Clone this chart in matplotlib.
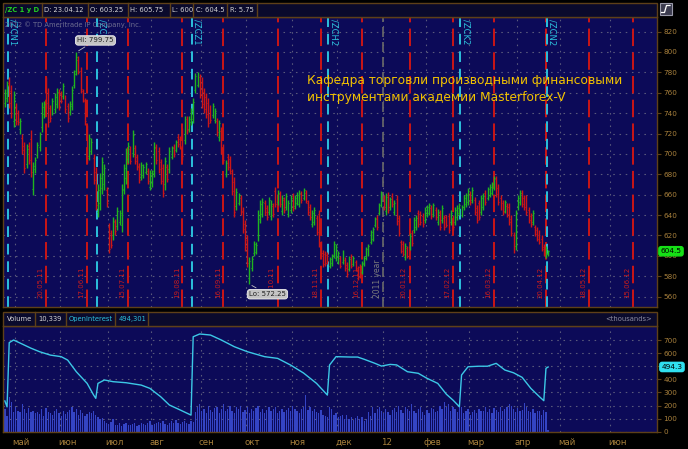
import numpy as np
import matplotlib
matplotlib.use('Agg')
import matplotlib.pyplot as plt
from matplotlib.patches import Rectangle
import matplotlib.transforms as mtrans
from matplotlib import font_manager

# ---------------- data ----------------
symbol = '/ZC 1 y D'
hdr_fields = ['D: 23.04.12', 'O: 603.25', 'H: 605.75', 'L: 600', 'C: 604.5', 'R: 5.75']
watermark = '2012 \u00a9 TD Ameritrade IP Company, Inc.'
title_lines = ['Кафедра торговли производными финансовыми',
               'инструментами академии Masterforex-V']
first_date = '2011-04-25'
holidays = ['2011-05-30', '2011-07-04', '2011-09-05', '2011-11-24', '2011-12-26',
            '2012-01-02', '2012-01-16', '2012-02-20', '2012-04-06']

highs = [764,772,775,768,762,750,743,735,720,712,
         710,712,723,692,697,712,721,751,752,775,
         765,748,755,760,765,764,762,770,758,750,
         752,767,782,799.75,796,785,764,755,728,720,
         716,700,687,670,681,697,690,668,632,625,
         638,636,648,645,670,690,706,712,708,723,
         709,700,691,692,690,692,686,684,684,712,
         710,707,695,690,697,690,707,708,710,714,
         720,718,725,737,737,737,745,755,779,780,
         778,775,765,760,755,748,750,745,735,733,
         726,710,694,700,698,685,677,667,662,660,
         648,635,620,599,600,615,614,645,655,657,
         655,650,658,655,652,668,665,664,660,658,
         662,655,660,662,660,663,665,664,667,665,
         655,651,645,648,640,645,615,606,605,604,
         599,602,615,612,605,600,606,599,594,600,
         602,600,596,590,592,595,600,609,612,625,
         628,638,640,652,664,660,662,663,658,662,
         655,660,640,616,615,613,610,622,625,638,
         640,645,644,642,648,650,652,650,652,648,
         646,645,650,640,640,642,645,640,648,650,
         652,650,660,662,667,664,668,658,650,655,
         660,662,665,668,670,672,678,678,670,660,
         655,655,652,652,640,623,645,660,665,665,
         660,660,648,642,645,630,628,625,620,612,
         610,605.75]
lows = [746,751,745,735,726,728,728,720,700,681,
        686,690,677,660,681,696,703,721,735,745,
        726,731,738,740,745,743,750,754,740,731,
        738,743,765,777,778,760,751,728,691,694,
        700,670,645,638,645,661,665,648,603,608,
        616,620,625,630,623,661,670,691,690,697,
        690,684,671,674,676,680,670,665,668,677,
        690,681,670,658,665,672,681,695,697,702,
        707,705,694,710,720,721,728,730,760,766,
        755,745,740,735,726,730,735,730,718,713,
        700,691,677,684,680,660,638,645,650,640,
        622,605,589,572.25,585,600,602,615,632,638,
        640,635,640,635,638,648,650,648,640,642,
        645,638,642,644,646,650,648,652,655,652,
        640,635,628,630,620,609,600,589,590,592,
        588,590,598,595,592,588,592,585,579,585,
        588,590,585,576,578,582,590,596,600,612,
        615,628,625,640,648,645,640,642,645,648,
        640,630,619,603,600,596,598,606,610,622,
        625,628,630,628,632,638,640,636,638,635,
        630,625,632,625,628,622,630,625,630,635,
        640,638,645,648,650,650,652,640,632,635,
        640,645,650,655,658,660,665,658,650,645,
        640,642,638,630,619,603,606,645,650,648,
        645,640,632,628,630,619,615,612,605,600,
        598,600]
opens = [750,755,770,762,732,745,740,724,716,708,
         690,708,715,666,685,699,707,726,739,768,
         760,745,741,744,749,760,759,757,755,747,
         741,747,768,781,792,781,762,752,724,698,
         703,696,682,643,652,667,670,665,628,622,
         620,633,629,633,630,666,676,695,705,701,
         706,697,688,677,679,682,683,668,671,683,
         706,703,692,686,670,687,685,697,707,704,
         717,715,721,714,734,724,731,734,763,768,
         775,771,761,756,750,745,738,733,732,717,
         722,707,680,697,695,681,672,649,652,657,
         644,631,616,578,588,603,604,620,636,641,
         652,647,643,639,649,664,653,661,644,655,
         648,641,645,659,649,652,651,661,657,662,
         652,648,631,633,637,641,612,603,602,601,
         590,593,601,598,594,598,594,596,591,587,
         599,592,594,588,589,584,592,598,603,614,
         617,630,637,642,651,657,644,660,648,659,
         643,656,637,614,612,599,608,609,622,625,
         628,642,641,639,635,640,642,647,641,645,
         633,642,635,637,638,639,633,637,633,638,
         642,640,648,651,653,661,655,655,647,652,
         643,648,662,657,660,662,667,675,667,657,
         652,644,649,648,636,620,610,648,653,662,
         657,656,645,639,633,628,625,622,617,609,
         600,603.25]
closes = [760,768,750,740,755,732,731,732,704,686,
          705,694,682,688,694,709,718,746,749,750,
          731,735,752,756,761,747,752,767,744,735,
          749,763,778,795,781,764,753,732,696,716,
          712,674,650,665,676,692,686,652,607,611,
          634,624,644,642,665,686,701,708,693,719,
          693,687,674,689,687,690,673,681,681,707,
          694,685,673,662,693,675,703,706,700,712,
          710,708,698,733,723,734,742,751,776,778,
          758,749,744,739,730,733,747,742,721,730,
          704,694,691,687,683,664,643,663,660,643,
          626,609,593,595,597,612,611,640,651,653,
          643,638,655,651,641,651,662,651,657,645,
          659,652,657,647,657,660,662,655,665,654,
          643,638,642,645,623,613,603,592,593,595,
          597,600,612,609,603,590,604,588,582,597,
          590,598,587,579,581,593,598,607,610,623,
          626,636,628,650,661,648,658,645,656,651,
          652,634,622,605,602,610,600,619,613,635,
          637,631,633,631,645,648,650,639,650,638,
          643,628,647,628,630,625,642,628,645,647,
          650,648,657,660,664,653,665,643,635,638,
          657,659,653,666,668,670,676,661,653,648,
          643,653,641,633,622,606,641,657,662,651,
          648,643,635,631,642,621,617,614,607,602,
          607,604.5]
# volume in thousands
volume = [170,120,265,230,150,190,160,150,210,170,
          140,180,150,160,140,150,135,170,120,180,
          150,145,130,160,175,140,120,155,135,150,
          165,185,150,170,130,165,140,120,135,150,
          140,160,125,110,95,105,80,70,60,75,
          95,55,50,65,45,60,70,55,50,60,
          65,45,55,70,60,50,65,80,55,60,
          70,75,65,85,60,55,70,80,65,90,
          70,60,75,85,70,60,80,75,150,190,
          210,160,175,140,200,165,150,180,190,145,
          170,210,155,175,195,160,140,185,170,200,
          150,165,190,145,175,160,180,200,150,170,
          140,165,185,155,170,190,145,160,175,150,
          165,180,155,200,170,160,140,175,185,280,
          165,190,160,175,150,140,165,130,120,110,
          185,175,130,140,110,120,125,95,130,100,
          115,90,105,120,95,110,85,100,150,120,
          190,140,170,185,160,140,175,150,130,165,
          180,150,200,165,145,190,170,155,210,160,
          140,175,190,150,130,165,145,180,170,150,
          160,200,175,230,185,210,160,190,170,150,
          200,190,140,160,170,130,150,165,145,175,
          155,160,185,150,170,140,180,165,150,190,
          160,175,185,210,200,170,150,180,155,165,
          220,185,160,150,170,140,160,155,130,165,
          150,10.339]
# open interest (thousands), read at these bar numbers
oi_idx = [0,1,2,4,7,12,16,21,26,29,33,38,41,42,43,46,50,56,63,67,72,76,81,86,87,
          90,95,100,106,112,120,126,132,138,144,149,150,153,160,163,166,171,174,178,181,
          186,191,195,200,204,207,210,211,214,219,223,227,231,235,239,243,247,249,250,251]
oi_val = [235,190,680,700,677,638,611,585,573,547,458,369,280,255,369,395,382,374,356,331,
          267,204,166,127,725,746,738,700,649,611,573,560,509,448,369,280,509,573,570,570,
          553,522,501,514,510,458,446,408,369,286,242,191,433,496,500,500,522,471,450,415,
          331,267,237,484,494.3]
exp_dates = ['2011-05-20', '2011-06-17', '2011-07-15', '2011-08-19', '2011-09-16',
             '2011-10-21', '2011-11-18', '2011-12-16', '2012-01-20', '2012-02-17',
             '2012-03-16', '2012-04-20', '2012-05-18', '2012-06-15']
roll_names = ['/ZCN1', '/ZCU1', '/ZCZ1', '/ZCH2', '/ZCK2', '/ZCN2']
roll_dates = ['2011-04-27', '2011-06-24', '2011-08-26', '2011-11-25', '2012-02-24', '2012-04-23']
year_date = '2012-01-03'
year_label = '2011 year'
month_starts = ['2011-05-01', '2011-06-01', '2011-07-01', '2011-08-01', '2011-09-01',
                '2011-10-01', '2011-11-01', '2011-12-01', '2012-01-01', '2012-02-01',
                '2012-03-01', '2012-04-01', '2012-05-01', '2012-06-01']
month_labels = ['май', 'июн', 'июл', 'авг', 'сен', 'окт', 'ноя', 'дек', '12',
                'фев', 'мар', 'апр', 'май', 'июн']
price_ticks = list(range(560, 821, 20))
vol_ticks = list(range(0, 701, 100))
vol_header = ['Volume', '10,339', 'OpenInterest', '494,301']

# ---------------- style ----------------
W, H = 688, 449
BG = '#0c0a58'
BROWN = '#5e4018'
AXTXT = '#a8803c'
GRID = '#5a5a7c'
GREEN = '#1fb41f'
RED = '#cc1616'
CYAN = '#2cc0dc'
plt.rcParams['font.family'] = ['DejaVu Sans']

installed = {f.name for f in font_manager.fontManager.ttflist}
if 'Liberation Sans Narrow' in installed:
    UI = ['Liberation Sans Narrow', 'DejaVu Sans']
    UIS = 6.6
else:
    UI = ['DejaVu Sans']
    UIS = 4.9

fig = plt.figure(figsize=(6.88, 4.49), dpi=100, facecolor='black')


def px_axes(x0, y0, x1, y1):
    return fig.add_axes([x0 / W, 1 - y1 / H, (x1 - x0) / W, (y1 - y0) / H])


hol = np.array(holidays, dtype='datetime64[D]')
d0 = np.datetime64(first_date)


def tidx(d):
    return int(np.busday_count(d0, np.datetime64(d), holidays=hol))


def first_bday(d):
    return np.busday_offset(np.datetime64(d), 0, roll='forward', holidays=hol)


n = min(len(highs), len(lows), len(opens), len(closes), len(volume))
xs = np.arange(n)
hi_a = np.array(highs[:n], float)
lo_a = np.array(lows[:n], float)
op_a = np.array(opens[:n], float)
cl_a = np.array(closes[:n], float)
XL = (-0.87, 301.3)
dotted = (0, (1.4, 4.2))

month_x = [tidx(first_bday(m)) - 0.5 for m in month_starts]

# ---------------- price panel ----------------
ax = px_axes(3, 17, 657, 306.5)
ax.set_facecolor(BG)
ax.set_xlim(*XL)
ax.set_ylim(550.3, 834.3)
for p in price_ticks:
    ax.axhline(p, color=GRID, lw=0.8, ls=dotted, zorder=1)
for mx in month_x:
    ax.axvline(mx, color=GRID, lw=0.8, ls=dotted, zorder=1)

for d in exp_dates:
    xi = tidx(d)
    ax.axvline(xi, color=RED, lw=1.4, ls=(0, (9, 3.2)), zorder=2)
    lab = d[8:10] + '.' + d[5:7] + '.' + d[2:4]
    ax.text(xi - 2.6, 558.8, lab, rotation=90, ha='center', va='bottom',
            fontsize=5, color='#c81c1c', zorder=2)

for name, d in zip(roll_names, roll_dates):
    xi = tidx(d) - 0.5
    ax.axvline(xi, color=CYAN, lw=1.4, ls=(0, (5.5, 3.5)), zorder=2)
    ax.text(xi + 2.4, 832.0, name, rotation=-90, ha='center', va='top',
            fontsize=6, color=CYAN, zorder=4)

yx = tidx(year_date) - 0.5
ax.axvline(yx, color='#6a6a6a', lw=1.2, ls=(0, (6, 3)), zorder=2)
ax.text(yx - 2.4, 558.8, year_label, rotation=90, ha='center', va='bottom',
        fontsize=5.5, color='#7c7c7c', zorder=2)

up = cl_a >= op_a
cols = np.where(up, GREEN, RED)
ax.vlines(xs, lo_a, hi_a, colors=cols, lw=1.0, zorder=3)
ax.hlines(op_a, xs - 0.45, xs, colors=cols, lw=0.8, zorder=3)
ax.hlines(cl_a, xs, xs + 0.45, colors=cols, lw=0.8, zorder=3)

ax.yaxis.tick_right()
ax.set_yticks(price_ticks)
ax.set_yticklabels([str(p) for p in price_ticks])
ax.set_xticks([])
ax.tick_params(axis='y', direction='out', length=3, width=0.8, color=BROWN,
               labelcolor=AXTXT, labelsize=5.2, pad=1.5)
for s in ax.spines.values():
    s.set_color(BROWN)
    s.set_linewidth(1.0)

ax.text(0.003, 0.975, watermark, transform=ax.transAxes, ha='left', va='center',
        fontsize=4.9, color='#6e6e90', zorder=4)
ax.text(0.4648, 0.7686, title_lines[0], transform=ax.transAxes, ha='left',
        va='baseline', fontsize=8.8, color='#f2c200', zorder=6)
ax.text(0.4648, 0.7098, title_lines[1], transform=ax.transAxes, ha='left',
        va='baseline', fontsize=8.8, color='#f2c200', zorder=6)

hi_i = int(np.argmax(hi_a))
lo_i = int(np.argmin(lo_a))
box = dict(boxstyle='round,pad=0.25,rounding_size=0.4', fc='#c4c4c4', ec='#eeeeee', lw=0.6)
ax.annotate('Hi: %.2f' % hi_a[hi_i], xy=(hi_i, hi_a[hi_i]), xytext=(hi_i + 0.4, 811.3),
            ha='left', va='center', fontsize=5, color='#202020', bbox=box,
            arrowprops=dict(arrowstyle='-', color='#c4c4c4', lw=0.6), zorder=7)
ax.annotate('Lo: %.2f' % lo_a[lo_i], xy=(lo_i, lo_a[lo_i]), xytext=(lo_i - 0.2, 562.3),
            ha='left', va='center', fontsize=5, color='#202020', bbox=box,
            arrowprops=dict(arrowstyle='-', color='#c4c4c4', lw=0.6), zorder=7)

tr = mtrans.blended_transform_factory(ax.transAxes, ax.transData)
ax.text(1.0214, cl_a[-1], ('%.1f' % cl_a[-1]), transform=tr, ha='center', va='center',
        fontsize=5.3, color='#000000', clip_on=False, zorder=10,
        bbox=dict(boxstyle='round,pad=0.22,rounding_size=0.3', fc='#16e016', ec='#16e016'))

# ---------------- volume / OI panel ----------------
vax = px_axes(3, 326, 657, 432)
vax.set_facecolor(BG)
vax.set_xlim(*XL)
vax.set_ylim(-2, 807)
for v in vol_ticks:
    vax.axhline(v, color=GRID, lw=0.8, ls=dotted, zorder=1)
for mx in month_x:
    vax.axvline(mx, color=GRID, lw=0.8, ls=dotted, zorder=1)
vax.bar(xs, np.array(volume[:n], float), width=0.6, color='#3444c4', zorder=2)
vax.plot(oi_idx, oi_val, color='#3cc8e6', lw=1.0, zorder=3)
vax.yaxis.tick_right()
vax.set_yticks(vol_ticks)
vax.set_yticklabels([('' if v == 500 else str(v)) for v in vol_ticks])
vax.set_xticks([])
vax.tick_params(axis='y', direction='out', length=3, width=0.8, color=BROWN,
                labelcolor=AXTXT, labelsize=5.2, pad=1.5)
for s in vax.spines.values():
    s.set_color(BROWN)
    s.set_linewidth(1.0)
trv = mtrans.blended_transform_factory(vax.transAxes, vax.transData)
vax.text(1.0229, oi_val[-1], '%.1f' % oi_val[-1], transform=trv, ha='center', va='center',
         fontsize=5.3, color='#000000', clip_on=False, zorder=10,
         bbox=dict(boxstyle='round,pad=0.22,rounding_size=0.3', fc='#30e0f0', ec='#30e0f0'))
trm = mtrans.blended_transform_factory(vax.transData, vax.transAxes)
for mx, lab in zip(month_x, month_labels):
    vax.text(mx - 0.9, -0.095, lab, transform=trm, ha='left', va='center',
             fontsize=6.2, color=AXTXT, clip_on=False)

# ---------------- header bars (pixel overlay) ----------------
ov = fig.add_axes([0, 0, 1, 1])
ov.set_xlim(0, W)
ov.set_ylim(H, 0)
ov.axis('off')
ov.set_zorder(5)
ov.patch.set_alpha(0)

HB = '#0a0a2c'
ov.add_patch(Rectangle((3, 2.5), 654, 14, fc=HB, ec=BROWN, lw=1.0))
cells = [3, 42, 88, 128, 170, 193, 227, 257]
for cx in cells[1:]:
    ov.plot([cx, cx], [2.5, 16.5], color=BROWN, lw=1.0)
ov.text(22.5, 9.6, symbol, ha='center', va='center', fontsize=UIS, fontweight='bold',
        color='#22cc22', family=UI)
for cx0, t in zip(cells[1:-1], hdr_fields):
    ov.text(cx0 + 2.5, 9.6, t, ha='left', va='center', fontsize=UIS, color='#d4d4d4',
            family=UI)
# icon
ov.add_patch(Rectangle((659.5, 3), 12.5, 12, fc='#3c3c50', ec='#9a9aaa', lw=0.8))
ov.plot([661.5, 664.5, 666.5, 670], [12.5, 12.5, 5.5, 5.5], color='white', lw=0.9)

ov.add_patch(Rectangle((3, 311.5), 654, 14.5, fc=HB, ec=BROWN, lw=1.0))
vcells = [3, 35, 65.5, 115, 148]
for cx in vcells[1:]:
    ov.plot([cx, cx], [311.5, 326], color=BROWN, lw=1.0)
vcols = ['#d4d4d4', '#d4d4d4', CYAN, CYAN]
for cx0, t, c in zip(vcells[:-1], vol_header, vcols):
    ov.text(cx0 + 3.5, 318.8, t, ha='left', va='center', fontsize=UIS, color=c, family=UI)
ov.text(652, 318.8, '<thousands>', ha='right', va='center', fontsize=UIS,
        color='#8a8aa0', family=UI)

fig.savefig('out.png', dpi=100, facecolor='black')
